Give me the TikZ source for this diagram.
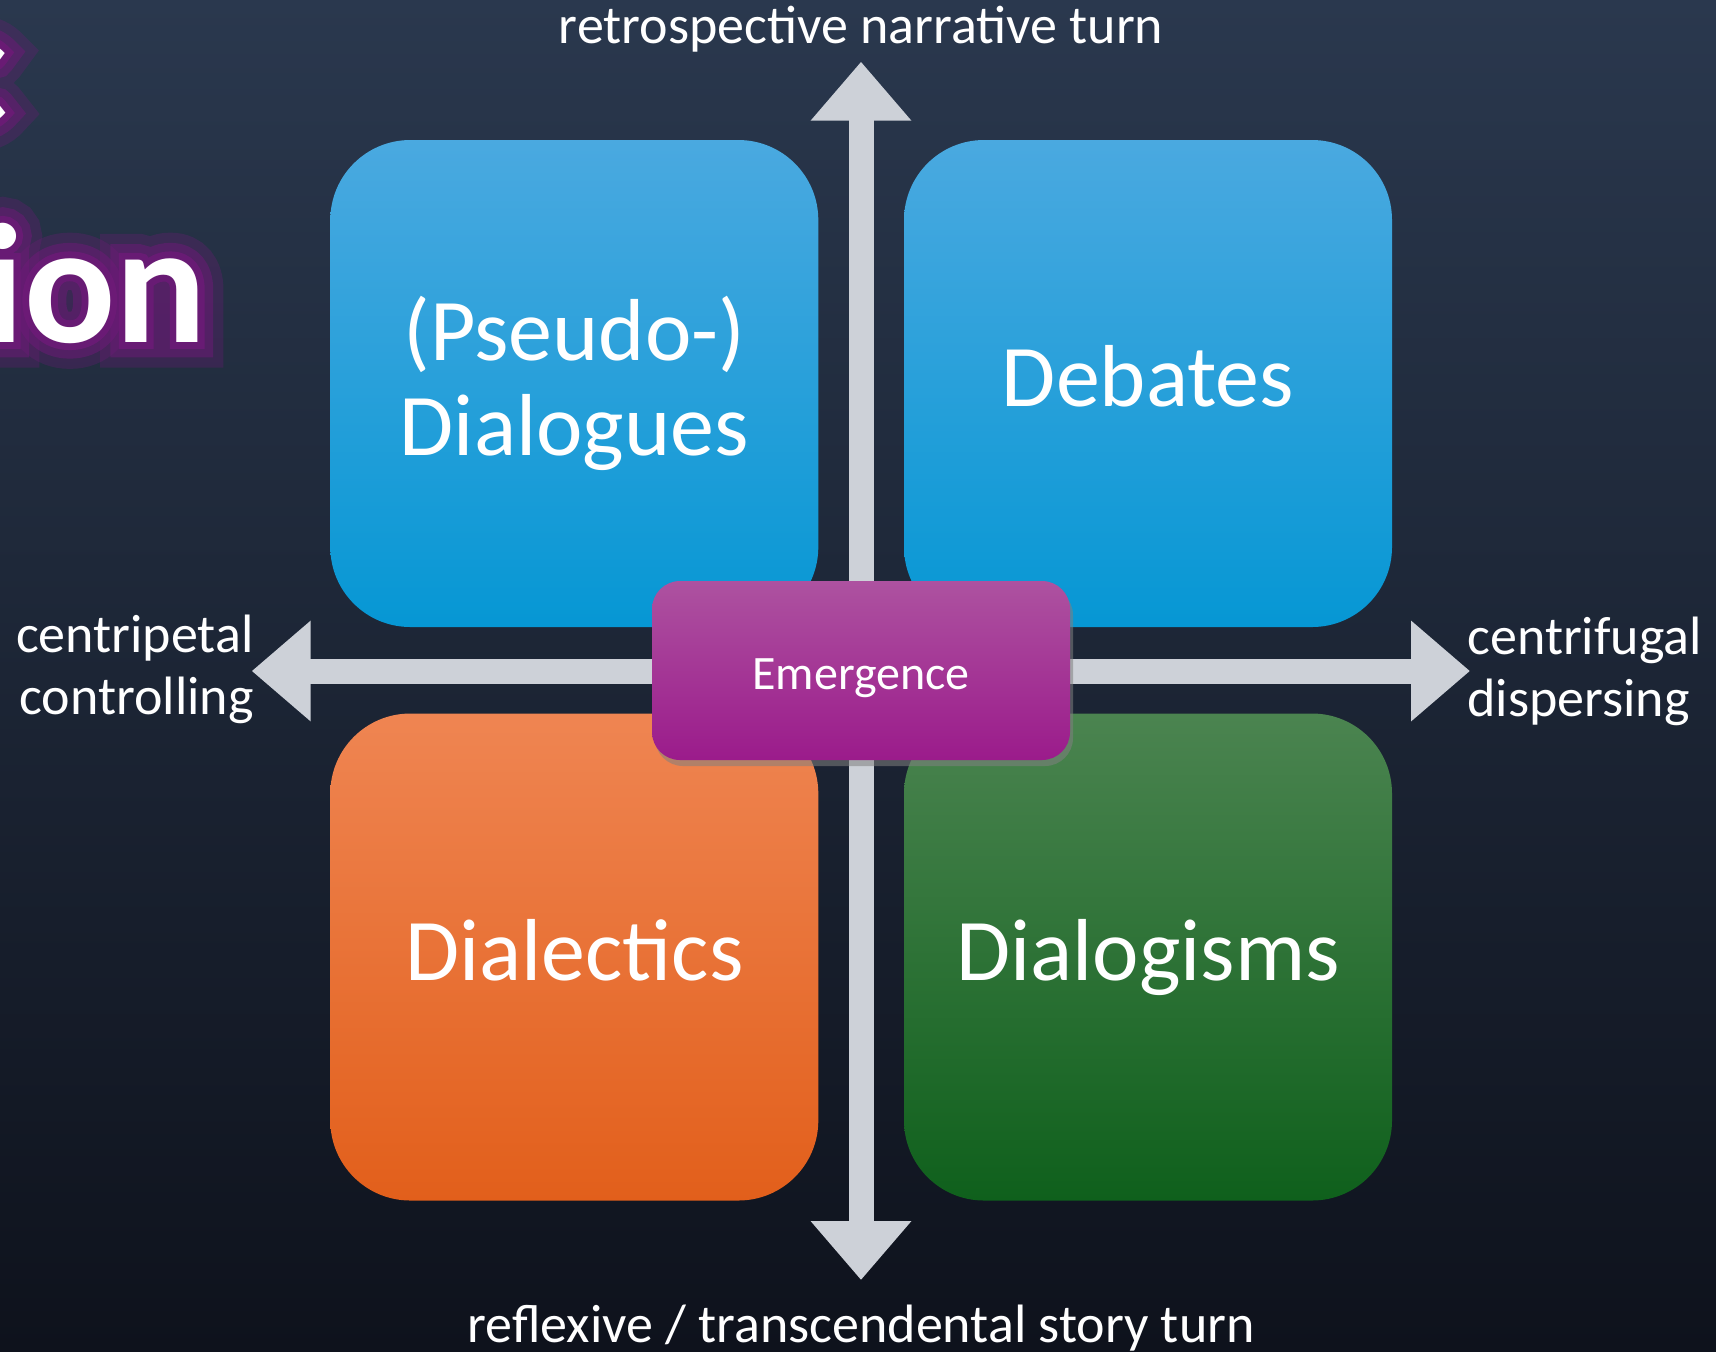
\documentclass[tikz,border=0pt]{standalone}
\usepackage{fontspec}
\setmainfont{Carlito}
\newfontfamily\glowwide{Carlito}[UprightFont={* Bold}, FakeBold=30]
\newfontfamily\glowmid{Carlito}[UprightFont={* Bold}, FakeBold=18]
\newfontfamily\glownear{Carlito}[UprightFont={* Bold}, FakeBold=8]
\usepackage{tikz}
\usetikzlibrary{arrows.meta}
\usetikzlibrary{shadows}

\definecolor{bgtop}{HTML}{2A384E}
\definecolor{bgmid}{HTML}{182030}
\definecolor{bgbot}{HTML}{0E121C}
\definecolor{bluetop}{HTML}{4AA9E0}
\definecolor{bluebot}{HTML}{0697D4}
\definecolor{orangetop}{HTML}{EF8552}
\definecolor{orangebot}{HTML}{E25F1B}
\definecolor{greentop}{HTML}{4B8450}
\definecolor{greenbot}{HTML}{0F601C}
\definecolor{purpletop}{HTML}{AD52A0}
\definecolor{purplebot}{HTML}{9B1B8B}
\definecolor{axisgray}{HTML}{CDD1D8}
\definecolor{glowpurple}{HTML}{6E1A78}

\begin{document}
\begin{tikzpicture}[x=0.5pt, y=-0.5pt,
    quad/.style={rounded corners=40pt, minimum width=244pt, minimum height=243.5pt,
      inner sep=0pt, align=center, text=white, text depth=7.5pt,
      font=\fontsize{44}{47.5}\selectfont},
    hub/.style={rounded corners=14pt, minimum width=209pt, minimum height=89.5pt,
      inner sep=0pt, text=white, text height=19pt, text depth=0pt,
      top color=purpletop, bottom color=purplebot,
      font=\fontsize{24}{28}\selectfont,
      drop shadow={shadow xshift=1.5pt, shadow yshift=-3pt, opacity=0.55}},
    axis/.style={draw=axisgray, line width=12.5pt,
      {Triangle[length=29.5pt,width=48.5pt]}-{Triangle[length=29.5pt,width=48.5pt]}},
    lbl/.style={text=white, inner sep=0pt, font=\fontsize{27}{31}\selectfont},
    big/.style={text=white, inner sep=0pt, anchor=base east, font=\fontsize{85}{90}\selectfont\bfseries}]

  \useasboundingbox (0,0) rectangle (1716,1351);
  \fill[top color=bgtop, middle color=bgmid, bottom color=bgbot] (0,0) rectangle (1716,1351);

%%% title remains, cut at the left edge %%%
  \node[big, text=glowpurple, opacity=0.3, font=\fontsize{85}{90}\glowwide] (glow-c-wide) at (8,125) {c};
  \node[big, text=glowpurple, opacity=0.3, font=\fontsize{85}{90}\glowwide] (glow-ion-wide) at (207,342) {ion};
  \node[big, text=glowpurple, opacity=0.5, font=\fontsize{85}{90}\glowmid] (glow-c-mid) at (8,125) {c};
  \node[big, text=glowpurple, opacity=0.5, font=\fontsize{85}{90}\glowmid] (glow-ion-mid) at (207,342) {ion};
  \node[big, text=glowpurple, opacity=0.8, font=\fontsize{85}{90}\glownear] (glow-c-near) at (8,125) {c};
  \node[big, text=glowpurple, opacity=0.8, font=\fontsize{85}{90}\glownear] (glow-ion-near) at (207,342) {ion};
  \node[big] (title-c) at (8,125) {c};
  \node[big] (title-ion) at (207,342) {ion};

%%% axes %%%
  \coordinate (up tip) at (861,61.7);
  \coordinate (down tip) at (861,1280);
  \coordinate (left tip) at (251.7,671);
  \coordinate (right tip) at (1470,671);

  \draw[axis] (down tip) -- (up tip);
  \draw[axis] (left tip) -- (right tip);

%%% quadrants %%%
  \node[quad, top color=bluetop, bottom color=bluebot] (pseudo) at (574.3,383.5) {(Pseudo-)\\Dialogues};
  \node[quad, top color=bluetop, bottom color=bluebot] (debates) at (1148,383.5) {Debates};
  \node[quad, top color=orangetop, bottom color=orangebot] (dialectics) at (574.3,957) {Dialectics};
  \node[quad, top color=greentop, bottom color=greenbot] (dialogisms) at (1148,957) {Dialogisms};

  \node[hub] (emergence) at (861,670.5) {Emergence};

%%% axis labels %%%
  \node[lbl, anchor=base] (retro) at (861,43) {retrospective narrative turn};
  \node[lbl, anchor=base] (reflex) at (861,1342) {reflexive / transcendental story turn};
  \node[lbl, anchor=east, align=right] (centripetal) at (254,669) {centripetal\\controlling};
  \node[lbl, anchor=west, align=left] (centrifugal) at (1467,671) {centrifugal\\dispersing};

\end{tikzpicture}
\end{document}
